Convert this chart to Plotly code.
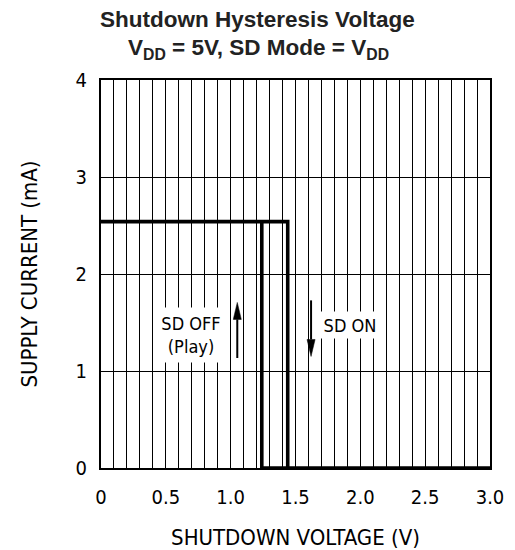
import plotly.graph_objects as go

# Hysteresis trace data (SHUTDOWN VOLTAGE in V, SUPPLY CURRENT in mA)
x_upper = [0.0, 1.44, 1.44]
y_upper = [2.54, 2.54, 0.0]
x_lower = [1.24, 1.24, 3.0]
y_lower = [2.54, 0.0, 0.0]

x_tickvals = [0, 0.5, 1.0, 1.5, 2.0, 2.5, 3.0]
x_ticktext = ["0", "0.5", "1.0", "1.5", "2.0", "2.5", "3.0"]
y_tickvals = [0, 1, 2, 3, 4]
y_ticktext = ["0", "1", "2", "3", "4"]

label_text = ["SD OFF<br>(Play)", "SD ON"]
label_x = [0.694, 1.92]
label_y = [1.376, 1.479]
label_w = [64, 58]
label_h = [52, 24]

arrow_x = [1.051, 1.62]
arrow_tail = [1.134, 1.728]
arrow_tip = [1.707, 1.15]

AX_FONT = "DejaVu Sans Condensed, DejaVu Sans, sans-serif"
TITLE_FONT = "Liberation Sans, Arial, sans-serif"

fig = go.Figure()
for xs, ys in [(x_upper, y_upper), (x_lower, y_lower)]:
    fig.add_trace(go.Scatter(x=xs, y=ys, mode="lines",
                             line=dict(color="black", width=3.6),
                             cliponaxis=False, showlegend=False, hoverinfo="skip"))

# arrows: shaft + filled head
head_len = 0.175
head_half = 0.031
for ax, tail, tip in zip(arrow_x, arrow_tail, arrow_tip):
    d = 1 if tip > tail else -1
    base = tip - d * head_len
    fig.add_trace(go.Scatter(x=[ax, ax], y=[tail, base], mode="lines",
                             line=dict(color="black", width=2),
                             showlegend=False, hoverinfo="skip"))
    fig.add_shape(type="path",
                  path=f"M {ax - head_half},{base} L {ax + head_half},{base} L {ax},{tip} Z",
                  xref="x", yref="y", fillcolor="black",
                  line=dict(color="black", width=0.5), layer="above")

for t, x, y, w, h in zip(label_text, label_x, label_y, label_w, label_h):
    fig.add_annotation(x=x, y=y, xref="x", yref="y", text=t, showarrow=False,
                       bgcolor="white", width=w, height=h, borderpad=1,
                       font=dict(family=AX_FONT, size=18, color="black"))

fig.add_annotation(x=0.402, y=1.0, xref="paper", yref="paper", yanchor="bottom",
                   yshift=46, text="<b>Shutdown Hysteresis Voltage</b>", showarrow=False,
                   font=dict(family=TITLE_FONT, size=22.5, color="#222"))
fig.add_annotation(x=0.404, y=1.0, xref="paper", yref="paper", yanchor="bottom",
                   yshift=15, text="<b>V<sub>DD</sub> = 5V, SD Mode = V<sub>DD</sub></b>",
                   showarrow=False,
                   font=dict(family=TITLE_FONT, size=22.5, color="#222"))

axis_common = dict(showline=True, linecolor="black", linewidth=2, mirror=True,
                   showgrid=True, gridcolor="black", gridwidth=1, zeroline=False,
                   ticks="", automargin=False,
                   tickfont=dict(family=AX_FONT, size=20, color="black"),
                   title_font=dict(family=AX_FONT, size=22, color="black"))

fig.update_xaxes(range=[0, 3], tickmode="array", tickvals=x_tickvals, ticktext=x_ticktext,
                 minor=dict(tickmode="linear", tick0=0, dtick=0.1, showgrid=True,
                            gridcolor="black", gridwidth=1),
                 ticklabelstandoff=10,
                 title=dict(text="SHUTDOWN VOLTAGE (V)", standoff=34), **axis_common)
fig.update_yaxes(range=[0, 4], tickmode="array", tickvals=y_tickvals, ticktext=y_ticktext,
                 ticklabelstandoff=8,
                 title=dict(text="SUPPLY CURRENT (mA)", standoff=32), **axis_common)

fig.update_layout(width=515, height=550, margin=dict(l=101, r=25, t=80, b=82),
                  plot_bgcolor="white", paper_bgcolor="white", showlegend=False)

fig.write_html("out.html", config={"displayModeBar": False},
               post_script="document.body.style.margin='0';document.body.style.overflow='hidden';")
